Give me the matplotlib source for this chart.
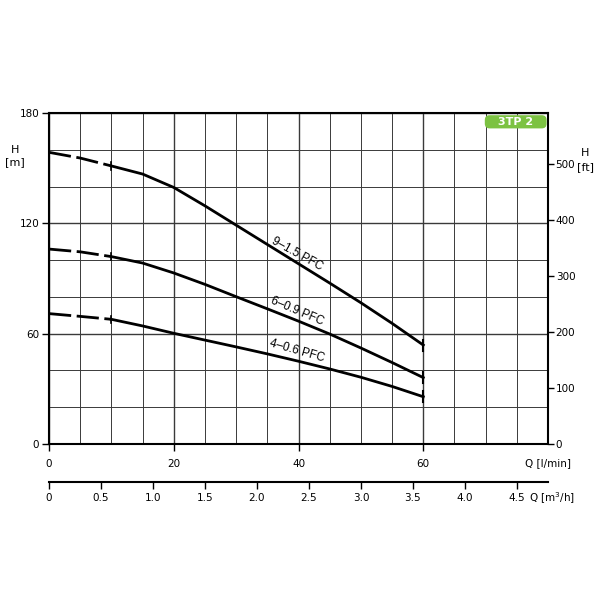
import matplotlib
matplotlib.use("Agg")
import matplotlib.pyplot as plt
from matplotlib.patches import FancyBboxPatch

# flow in l/min, head in m
q_dash = [0, 5, 10]
q_solid = [10, 15, 20, 25, 30, 35, 40, 45, 50, 55, 60]

h_9_dash = [158.6, 155.5, 151.2]
h_9 = [151.2, 146.8, 139.5, 129.5, 119.0, 108.5, 98.0, 87.5, 76.8, 65.6, 53.8]
h_6_dash = [106.0, 104.5, 101.9]
h_6 = [101.9, 98.4, 93.0, 86.8, 80.1, 73.5, 66.8, 59.8, 52.2, 44.3, 36.1]
h_4_dash = [70.9, 69.4, 67.8]
h_4 = [67.8, 64.2, 60.2, 56.5, 52.8, 49.0, 45.0, 40.8, 36.3, 31.3, 25.7]

labels = ["9\u20131.5 PFC", "6\u20130.9 PFC", "4\u20130.6 PFC"]
label_pos = [(39.8, 103.5, -29), (39.8, 72.3, -23), (39.8, 50.6, -16)]

m_ticks = [0, 60, 120, 180]
ft_ticks = [0, 100, 200, 300, 400, 500]
lmin_ticks = [0, 20, 40, 60]
m3h_ticks = [0, 0.5, 1.0, 1.5, 2.0, 2.5, 3.0, 3.5, 4.0, 4.5]

fig = plt.figure(figsize=(6, 6), dpi=100)
ax = fig.add_axes([0.0817, 0.26, 0.8317, 0.5517])
ax.set_xlim(0, 80)
ax.set_ylim(0, 180)

# grid
for x in range(0, 81, 5):
    lw = 1.0 if x % 20 == 0 else 0.7
    ax.axvline(x, color="#3a3a3a", lw=lw, zorder=1)
for y in range(0, 181, 20):
    lw = 1.0 if y % 60 == 0 else 0.7
    ax.axhline(y, color="#3a3a3a", lw=lw, zorder=1)

curves = [(h_9_dash, h_9), (h_6_dash, h_6), (h_4_dash, h_4)]
for (hd, hs), lab, (lx, ly, rot) in zip(curves, labels, label_pos):
    ax.plot(q_dash, hd, color="black", lw=2, ls=(0, (8, 2)), zorder=3)
    ax.plot(q_solid, hs, color="black", lw=2, zorder=3, solid_joinstyle="round")
    ax.plot([10, 10], [hs[0] - 2, hs[0] + 2], color="black", lw=1.2, zorder=3)
    ax.plot([60, 60], [hs[-1] - 3, hs[-1] + 3], color="black", lw=1.5, zorder=3)
    ax.text(lx, ly, lab, rotation=rot, fontsize=8.5, ha="center", va="center",
            rotation_mode="anchor", family="Liberation Sans", zorder=4)

for s in ax.spines.values():
    s.set_linewidth(1.5)

ax.set_xticks(lmin_ticks)
ax.set_yticks(m_ticks)
ax.tick_params(axis="y", labelsize=7.5, length=5, width=1, pad=2)
ax.tick_params(axis="x", labelsize=7.5, length=5, width=1, pad=6)
ax.text(80, -7.5, "Q [l/min]", fontsize=7.5, ha="center", va="top")

# right axis in ft
axr = ax.twinx()
axr.set_ylim(0, 180 * 3.28084)
axr.set_yticks(ft_ticks)
axr.tick_params(axis="y", labelsize=7.5, length=4, width=1, pad=1.5)
for s in axr.spines.values():
    s.set_visible(False)

fig.text(0.025, 0.74, "H\n[m]", fontsize=8, ha="center", va="center", linespacing=1.2)
fig.text(0.975, 0.745, "H", fontsize=8, ha="center", va="center")
fig.text(0.975, 0.722, "[ft]", fontsize=8, ha="center", va="center")

# m3/h scale below
axb = fig.add_axes([0.0817, 0.197, 0.8317, 0.001])
axb.set_xlim(0, 80 * 0.06)
axb.set_ylim(0, 1)
for k in ["top", "left", "right"]:
    axb.spines[k].set_visible(False)
axb.spines["bottom"].set_linewidth(1.5)
axb.set_yticks([])
axb.set_xticks(m3h_ticks)
axb.set_xticklabels(["0", "0.5", "1.0", "1.5", "2.0", "2.5", "3.0", "3.5", "4.0", "4.5"])
axb.tick_params(axis="x", labelsize=7.5, length=5, width=1, pad=3)
fig.text(0.882, 0.169, "Q [m$^3$/h]", fontsize=7.5, ha="left", va="center")

# badge
badge = FancyBboxPatch((0.808, 0.786), 0.103, 0.022, boxstyle="round,pad=0,rounding_size=0.008",
                       transform=fig.transFigure, fc="#7cc242", ec="none", zorder=5)
fig.patches.append(badge)
fig.text(0.8595, 0.797, "3TP 2", color="white", fontsize=8, fontweight="bold",
         ha="center", va="center", zorder=6)

fig.savefig("out.png", dpi=100, facecolor="white")
